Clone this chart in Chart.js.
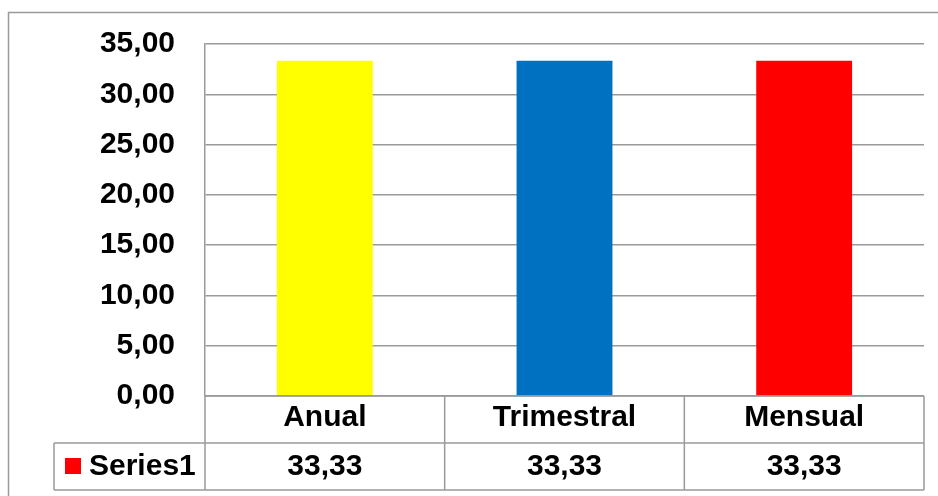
<!DOCTYPE html>
<html>
<head>
<meta charset="utf-8">
<script src="https://cdn.jsdelivr.net/npm/chart.js@4.4.1/dist/chart.umd.min.js"></script>
<style>
    html, body { margin: 0; padding: 0; background: #ffffff; }
    #wrap { width: 938px; height: 496px; position: relative; }
</style>
</head>
<body>
<div id="wrap"><canvas id="periodo-chart"></canvas></div>
<script>
// ===== Distribución por periodicidad =====

const categories = ['Anual', 'Trimestral', 'Mensual'];
const seriesName = 'Series1';
const seriesValues = [33.33, 33.33, 33.33];
const barColors = ['#FFFF00', '#0070C0', '#FF0000'];
const yMax = 35;
const yStep = 5;

const FONT_FAMILY = "'Liberation Sans', Arial, sans-serif";
const FONT_SIZE = 30;
const LINE_GRAY = '#9a9a9a';

// formato con coma decimal: 33.33 -> "33,33"
function fmt(v) {
    return Number(v).toFixed(2).replace('.', ',');
}

// Marco exterior + tabla de datos bajo el eje X
const dataTablePlugin = {
    id: 'dataTable',
    beforeDraw(chart) {
        const ctx = chart.ctx;
        ctx.save();
        ctx.strokeStyle = LINE_GRAY;
        ctx.lineWidth = 1.5;
        ctx.strokeRect(8.5, 12.5, chart.width + 20, chart.height + 20);
        ctx.restore();
    },
    afterDraw(chart) {
        const ctx = chart.ctx;
        const x = chart.scales.x;
        const area = chart.chartArea;
        const rowH = 47;
        const top = area.bottom;
        const mid = top + rowH;
        const bottom = mid + rowH;
        const headLeft = 54;

        ctx.save();
        ctx.strokeStyle = LINE_GRAY;
        ctx.lineWidth = 1.5;
        ctx.beginPath();
        // líneas horizontales
        ctx.moveTo(headLeft, mid); ctx.lineTo(area.right, mid);
        ctx.moveTo(headLeft, bottom); ctx.lineTo(area.right, bottom);
        ctx.moveTo(area.left, top); ctx.lineTo(area.right, top);
        // celda de la leyenda
        ctx.moveTo(headLeft, mid); ctx.lineTo(headLeft, bottom);
        // separadores de categoría
        const step = (area.right - area.left) / categories.length;
        for (let i = 0; i <= categories.length; i++) {
            const px = area.left + step * i;
            ctx.moveTo(px, top); ctx.lineTo(px, bottom);
        }
        ctx.stroke();

        // clave de la serie
        ctx.fillStyle = '#FF0000';
        ctx.fillRect(65, mid + 15, 16, 16);

        ctx.fillStyle = '#000000';
        ctx.font = 'bold ' + FONT_SIZE + 'px ' + FONT_FAMILY;
        ctx.textBaseline = 'middle';
        ctx.textAlign = 'left';
        ctx.fillText(seriesName, 89, mid + 24);

        ctx.textAlign = 'center';
        seriesValues.forEach((v, i) => {
            ctx.fillText(fmt(v), x.getPixelForValue(i), mid + 24);
        });
        ctx.restore();
    }
};

new Chart(document.getElementById('periodo-chart'), {
    type: 'bar',
    data: {
        labels: categories,
        datasets: [{
            label: seriesName,
            data: seriesValues,
            backgroundColor: barColors,
            borderWidth: 0,
            categoryPercentage: 1,
            barPercentage: 0.4
        }]
    },
    options: {
        responsive: true,
        maintainAspectRatio: false,
        animation: false,
        layout: { padding: { left: 8, top: 44, right: 14, bottom: 0 } },
        plugins: {
            legend: { display: false },
            tooltip: { enabled: false }
        },
        scales: {
            y: {
                min: 0,
                max: yMax,
                afterFit(scale) { scale.width = 197; },
                ticks: {
                    stepSize: yStep,
                    padding: 0,
                    color: '#000000',
                    font: { family: FONT_FAMILY, size: FONT_SIZE, weight: 'bold' },
                    callback: (value) => fmt(value)
                },
                // marcas invisibles: solo separan las etiquetas del eje
                grid: { color: LINE_GRAY, lineWidth: 1.5, tickLength: 30, tickColor: 'rgba(0,0,0,0)' },
                border: { color: LINE_GRAY, width: 1.5 }
            },
            x: {
                afterFit(scale) { scale.height = 100; },
                ticks: {
                    padding: 4,
                    color: '#000000',
                    font: { family: FONT_FAMILY, size: FONT_SIZE, weight: 'bold' }
                },
                grid: { display: false, drawTicks: false },
                border: { display: false }
            }
        }
    },
    plugins: [dataTablePlugin]
});
</script>
</body>
</html>
